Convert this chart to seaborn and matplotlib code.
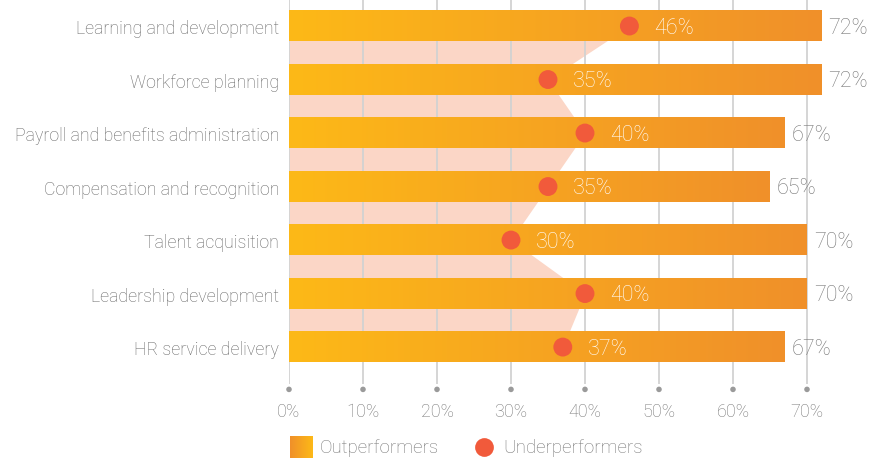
import numpy as np
import pandas as pd
import matplotlib
matplotlib.use("Agg")
import matplotlib.pyplot as plt
import matplotlib.transforms as mtransforms
from matplotlib.colors import LinearSegmentedColormap
from matplotlib.lines import Line2D
import seaborn as sns

categories = [
    "Learning and development",
    "Workforce planning",
    "Payroll and benefits administration",
    "Compensation and recognition",
    "Talent acquisition",
    "Leadership development",
    "HR service delivery",
]
outperformers = [72, 72, 67, 65, 70, 70, 67]
underperformers = [46, 35, 40, 35, 30, 40, 37]
xticks = [0, 10, 20, 30, 40, 50, 60, 70]
xtick_labels = ["0%", "10%", "20%", "30%", "40%", "50%", "60%", "70%"]

sns.set_theme(style="white")
plt.rcParams["font.family"] = ["Roboto", "DejaVu Sans"]
plt.rcParams["font.weight"] = "light"

W, H = 881, 460
fig = plt.figure(figsize=(W / 100, H / 100), dpi=100)
ax = fig.add_axes([289 / W, 1 - 385 / H, (844 - 289) / W, 385 / H])

df = pd.DataFrame({"Category": categories, "Outperformers": outperformers,
                   "Underperformers": underperformers})

sns.barplot(data=df, x="Outperformers", y="Category", orient="h", width=0.57,
            color="#F6A323", ax=ax, zorder=3)

cmap = LinearSegmentedColormap.from_list("g", ["#FDB917", "#F0902A"])
grad = np.linspace(0, 1, 256).reshape(1, -1)
for p in list(ax.patches):
    x0, y0 = p.get_x(), p.get_y()
    w, h = p.get_width(), p.get_height()
    ax.imshow(grad, extent=[x0, x0 + w, y0 + h, y0], aspect="auto", cmap=cmap,
              zorder=3, interpolation="bicubic")
    p.set_visible(False)

ypos = np.arange(len(categories))
ax.fill_betweenx(ypos, 0, underperformers, color="#FBD6C6", zorder=1, lw=0)

sns.scatterplot(x=underperformers, y=ypos, ax=ax, color="#F15A3B", s=185,
                edgecolor="none", zorder=4, legend=False)

for i, (o, u) in enumerate(zip(outperformers, underperformers)):
    ax.text(u + 3.4, i + 0.02, f"{u}%", color="white", fontsize=15.5, va="center",
            ha="left", zorder=5)
    ax.text(o + 0.9, i + 0.02, f"{o}%", color="#777777", fontsize=15.5, va="center",
            ha="left", zorder=5, clip_on=False)

ax.set_xlim(0, 75)
ax.set_ylim(6.69, -0.505)
ax.set_xticks(xticks)
ax.set_xticklabels(xtick_labels)
ax.set_xlabel("")
ax.set_ylabel("")
ax.grid(axis="x", color="#D2D2D2", lw=1.3)
ax.grid(axis="y", visible=False)
ax.set_axisbelow("line")
ax.tick_params(axis="x", length=0, pad=13, labelsize=13, labelcolor="#777777")
ax.tick_params(axis="y", length=0, pad=7, labelsize=12.8, labelcolor="#666666")
sns.despine(ax=ax, left=True, bottom=True)

trans = mtransforms.blended_transform_factory(ax.transData, ax.transAxes)
ax.scatter(xticks, [-0.014] * len(xticks), transform=trans, clip_on=False,
           color="#9A9A9A", s=16, zorder=5, edgecolor="none")

# legend
lax = fig.add_axes([290 / W, 1 - 459 / H, 23 / W, 22 / H])
lax.imshow(grad[:, ::-1], cmap=cmap, aspect="auto", extent=[0, 1, 0, 1])
lax.set_axis_off()
fig.text(320 / W, 1 - 448 / H, "Outperformers", fontsize=13.5, color="#777777",
         va="center", ha="left")
fig.add_artist(Line2D([484 / W], [1 - 448 / H], marker="o", markersize=13.5,
                      color="#F15A3B", markeredgewidth=0, transform=fig.transFigure))
fig.text(503 / W, 1 - 448 / H, "Underperformers", fontsize=13.5, color="#777777",
         va="center", ha="left")

fig.savefig("out.png", dpi=100)
